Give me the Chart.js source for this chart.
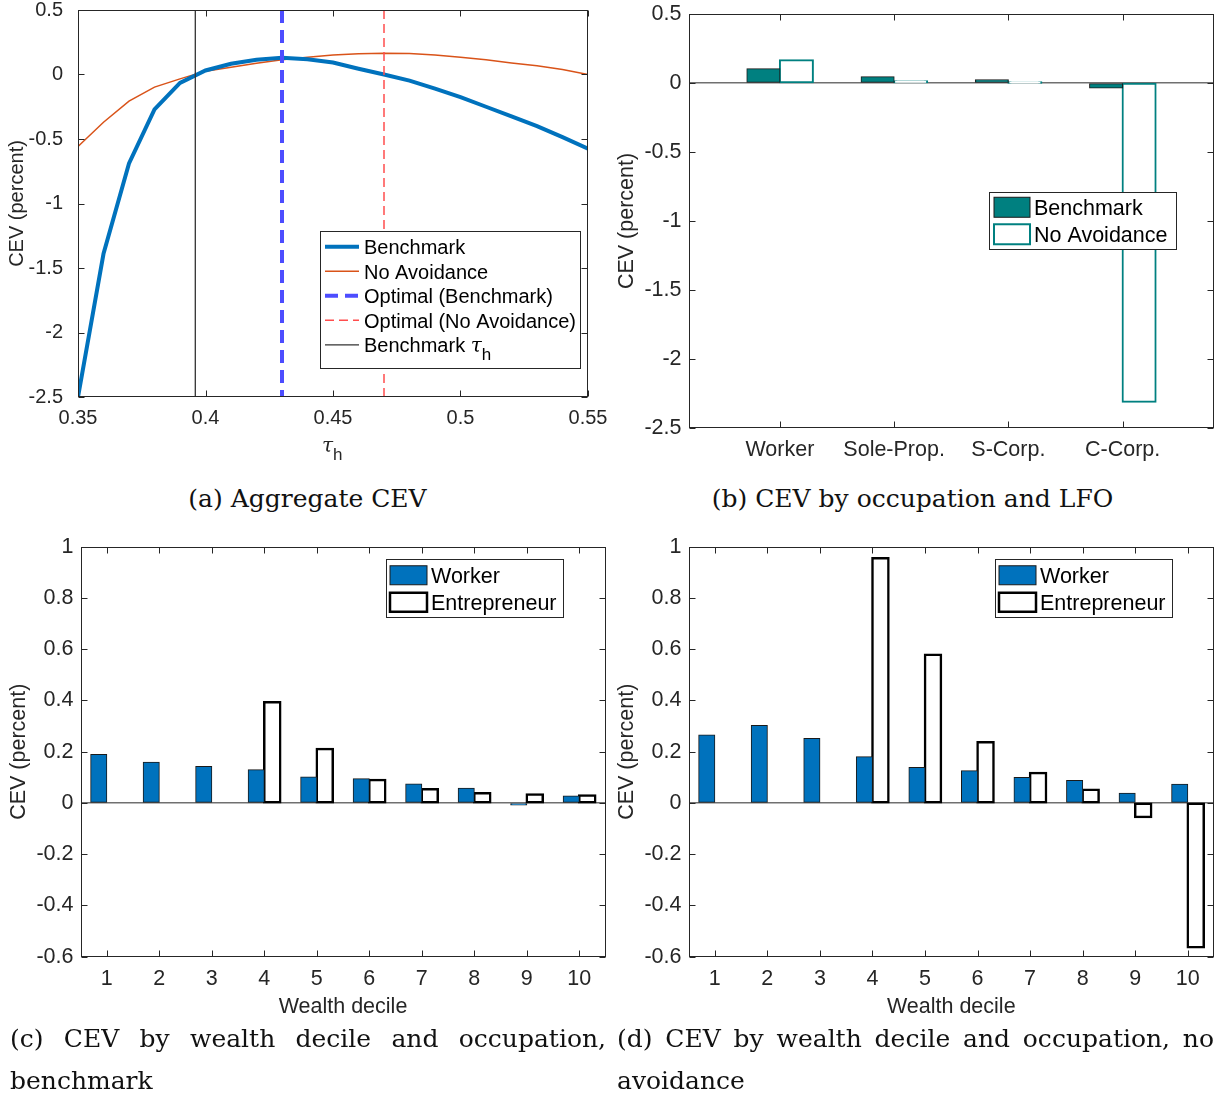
<!DOCTYPE html>
<html>
<head>
<meta charset="utf-8">
<script src="https://cdn.jsdelivr.net/npm/chart.js@4.4.1/dist/chart.umd.min.js"></script>
<style>
  body { margin: 0; background: #fff; width: 1215px; height: 1097px; position: relative; overflow: hidden; }
  canvas { position: absolute; }
  .cap { position: absolute; font-family: 'DejaVu Serif', serif; font-size: 25px; line-height: 42px; color: #111; }
  .just { text-align: justify; }
</style>
</head>
<body>
<canvas id="aggChart" width="610" height="470" style="left:0;top:0"></canvas>
<canvas id="occChart" width="605" height="470" style="left:610px;top:0"></canvas>
<canvas id="decBenchChart" width="610" height="500" style="left:0;top:530px"></canvas>
<canvas id="decNoAvoidChart" width="605" height="500" style="left:610px;top:530px"></canvas>

<div class="cap" style="left:0;top:478px;width:615px;text-align:center">(a) Aggregate CEV</div>
<div class="cap" style="left:610px;top:478px;width:605px;text-align:center">(b) CEV by occupation and LFO</div>
<div class="cap just" style="left:10px;top:1018px;width:596px">(c) CEV by wealth decile and occupation, benchmark</div>
<div class="cap just" style="left:617px;top:1018px;width:597px">(d) CEV by wealth decile and occupation, no avoidance</div>

<script>
// (a) aggregate CEV against the top rate tau_h
const tauGrid = [0.35, 0.36, 0.37, 0.38, 0.39, 0.40, 0.41, 0.42, 0.43, 0.44, 0.45,
                 0.46, 0.47, 0.48, 0.49, 0.50, 0.51, 0.52, 0.53, 0.54, 0.55];
const cevBenchmark = [-2.5, -1.39, -0.69, -0.27, -0.065, 0.031, 0.083, 0.114, 0.129, 0.119, 0.093,
                      0.045, 0.0, -0.047, -0.11, -0.176, -0.25, -0.325, -0.40, -0.486, -0.576];
const cevNoAvoidance = [-0.558, -0.37, -0.207, -0.098, -0.034, 0.026, 0.057, 0.088, 0.114, 0.134, 0.152,
                        0.16, 0.165, 0.163, 0.152, 0.134, 0.114, 0.09, 0.067, 0.039, 0.0];
const tauOptimalBenchmark = 0.43;
const tauOptimalNoAvoidance = 0.47;
const tauBenchmark = 0.396;
const aggXTicks = [0.35, 0.4, 0.45, 0.5, 0.55];
const aggYTicks = [0.5, 0, -0.5, -1, -1.5, -2, -2.5];

// (b) CEV by occupation and legal form
const occupations = ['Worker', 'Sole-Prop.', 'S-Corp.', 'C-Corp.'];
const occBenchmark = [0.104, 0.046, 0.024, -0.036];
const occNoAvoidance = [0.164, 0.012, 0.002, -2.31];
const occYTicks = [0.5, 0, -0.5, -1, -1.5, -2, -2.5];

// (c), (d) CEV by wealth decile
const deciles = ['1', '2', '3', '4', '5', '6', '7', '8', '9', '10'];
const workerBench = [0.189, 0.159, 0.142, 0.130, 0.101, 0.094, 0.074, 0.057, -0.008, 0.027];
const entreBench = [null, null, null, 0.393, 0.211, 0.090, 0.053, 0.038, 0.033, 0.029];
const workerNoAvoid = [0.265, 0.302, 0.252, 0.180, 0.138, 0.126, 0.099, 0.088, 0.038, 0.073];
const entreNoAvoid = [null, null, null, 0.955, 0.578, 0.237, 0.117, 0.052, -0.055, -0.563];
const decYTicks = [1, 0.8, 0.6, 0.4, 0.2, 0, -0.2, -0.4, -0.6];

Chart.defaults.font.family = "'Liberation Sans', Arial, Helvetica, sans-serif";
Chart.defaults.color = '#262626';
Chart.defaults.animation = false;

const AXIS = '#262626';
const fmt = v => String(Math.round(v * 100) / 100);

function drawTauH(ctx, x, base, size) {
  ctx.font = "italic " + size + "px 'DejaVu Serif', serif";
  ctx.textAlign = 'left';
  ctx.textBaseline = 'alphabetic';
  ctx.fillText('τ', x, base);
  const w = ctx.measureText('τ').width;
  ctx.font = Math.round(size * 0.85) + "px 'Liberation Sans', Arial, sans-serif";
  ctx.fillText('h', x + w, base + size * 0.42);
}

// box round the axes with inward tick marks on all four sides
const matlabBox = {
  id: 'matlabBox',
  afterDraw(chart) {
    const {ctx, chartArea: a, scales} = chart;
    const L = Math.round(a.left) + 0.5, R = Math.round(a.right) - 0.5;
    const T = Math.round(a.top) + 0.5, B = Math.round(a.bottom) - 0.5;
    const len = 6;
    ctx.save();
    ctx.strokeStyle = AXIS;
    ctx.lineWidth = 1;
    ctx.strokeRect(L, T, R - L, B - T);
    ctx.beginPath();
    scales.x.ticks.forEach(t => {
      const px = Math.round(scales.x.getPixelForValue(t.value)) + 0.5;
      ctx.moveTo(px, B); ctx.lineTo(px, B - len);
      ctx.moveTo(px, T); ctx.lineTo(px, T + len);
    });
    scales.y.ticks.forEach(t => {
      const py = Math.round(scales.y.getPixelForValue(t.value)) + 0.5;
      ctx.moveTo(L, py); ctx.lineTo(L + len, py);
      ctx.moveTo(R, py); ctx.lineTo(R - len, py);
    });
    ctx.stroke();
    const xt = chart.options.plugins.matlabBox && chart.options.plugins.matlabBox.tauTitle;
    if (xt) {
      ctx.fillStyle = AXIS;
      drawTauH(ctx, (a.left + a.right) / 2 - 11, xt, 20);
    }
    ctx.restore();
  }
};

// legend box drawn inside the axes, MATLAB style
const boxLegend = {
  id: 'boxLegend',
  afterDraw(chart, args, o) {
    if (!o || !o.w) return;
    const ctx = chart.ctx;
    ctx.save();
    ctx.fillStyle = '#fff';
    ctx.fillRect(o.x, o.y, o.w, o.h);
    ctx.strokeStyle = AXIS;
    ctx.lineWidth = 1;
    ctx.strokeRect(o.x + 0.5, o.y + 0.5, o.w, o.h);
    const isBar = chart.config.type === 'bar';
    chart.data.datasets.forEach((ds, i) => {
      const base = o.base + i * o.step;
      const cy = base - o.size * 0.36;
      if (isBar) {
        const h = o.swH;
        ctx.fillStyle = ds.backgroundColor;
        ctx.fillRect(o.sx0, cy - h / 2, o.sx1 - o.sx0, h);
        ctx.strokeStyle = ds.borderColor;
        ctx.lineWidth = ds.borderWidth;
        ctx.setLineDash([]);
        ctx.strokeRect(o.sx0, cy - h / 2, o.sx1 - o.sx0, h);
      } else {
        ctx.strokeStyle = ds.borderColor;
        ctx.lineWidth = ds.borderWidth;
        ctx.setLineDash(ds.borderDash || []);
        ctx.beginPath();
        ctx.moveTo(o.sx0, cy);
        ctx.lineTo(o.sx1, cy);
        ctx.stroke();
        ctx.setLineDash([]);
      }
      ctx.fillStyle = '#000';
      ctx.font = o.size + "px 'Liberation Sans', Arial, sans-serif";
      ctx.textAlign = 'left';
      ctx.textBaseline = 'alphabetic';
      let label = ds.label;
      const sub = label.endsWith('τ_h');
      if (sub) label = label.slice(0, -3);
      ctx.fillText(label, o.tx, base);
      if (sub) {
        const w = ctx.measureText(label).width;
        drawTauH(ctx, o.tx + w, base, o.size);
      }
    });
    ctx.restore();
  }
};

function fixedTicks(list) {
  return scale => { scale.ticks = list.map(v => ({value: v})); };
}

function yAxis(min, max, ticks, size, titlePad, width) {
  return {
    type: 'linear', min: min, max: max,
    afterBuildTicks: fixedTicks(ticks),
    afterFit: s => { s.width = width; s.paddingTop = 0; s.paddingBottom = 0; },
    border: {display: false},
    grid: {drawTicks: false, lineWidth: 1.5, color: c => c.tick && c.tick.value === 0 ? '#707070' : 'rgba(0,0,0,0)'},
    ticks: {font: {size: size}, padding: 7, callback: v => fmt(v)},
    title: {display: true, text: 'CEV (percent)', font: {size: size}, padding: {top: titlePad, bottom: 0}}
  };
}

function xAxis(min, max, ticks, labels, size, height, title) {
  return {
    type: 'linear', min: min, max: max, offset: false,
    afterBuildTicks: fixedTicks(ticks),
    afterFit: s => { s.height = height; s.paddingLeft = 0; s.paddingRight = 0; },
    border: {display: false},
    grid: {display: false},
    ticks: {font: {size: size}, padding: 1, autoSkip: false, maxRotation: 0,
            callback: v => labels ? labels[Math.round(v) - 1] : fmt(v)},
    title: {display: !!title, text: title || '', font: {size: size}, padding: {top: 0, bottom: 10}}
  };
}

const pts = (xs, ys) => xs.map((x, i) => ({x: x, y: ys[i]}));
const vline = x => [{x: x, y: aggYTicks[0]}, {x: x, y: aggYTicks[aggYTicks.length - 1]}];

// (a)
const aggY = yAxis(-2.5, 0.5, aggYTicks, 20, 5, 78);
aggY.grid = {display: false};
new Chart(document.getElementById('aggChart'), {
  type: 'line',
  data: {
    datasets: [
      {label: 'Benchmark', data: pts(tauGrid, cevBenchmark), borderColor: '#0072BD', borderWidth: 4, order: 2},
      {label: 'No Avoidance', data: pts(tauGrid, cevNoAvoidance), borderColor: '#D95319', borderWidth: 1.5, order: 3},
      {label: 'Optimal (Benchmark)', data: vline(tauOptimalBenchmark), borderColor: 'rgb(77,77,255)', borderWidth: 4, borderDash: [13, 7], order: 1},
      {label: 'Optimal (No Avoidance)', data: vline(tauOptimalNoAvoidance), borderColor: 'rgb(255,77,77)', borderWidth: 1.5, borderDash: [9, 5], order: 1},
      {label: 'Benchmark τ_h', data: vline(tauBenchmark), borderColor: '#333333', borderWidth: 1.3, order: 1}
    ]
  },
  options: {
    responsive: false,
    layout: {padding: {left: 0, right: 22, top: 10, bottom: 0}},
    elements: {point: {radius: 0}, line: {tension: 0}},
    scales: {x: xAxis(0.35, 0.55, aggXTicks, null, 20, 73, null), y: aggY},
    plugins: {
      legend: {display: false}, tooltip: {enabled: false},
      matlabBox: {tauTitle: 452},
      boxLegend: {x: 320, y: 231, w: 260, h: 137, base: 254, step: 24.5, sx0: 325, sx1: 359, tx: 364, size: 20}
    }
  },
  plugins: [matlabBox, boxLegend]
});

// (b)
new Chart(document.getElementById('occChart'), {
  type: 'bar',
  data: {
    datasets: [
      {label: 'Benchmark', data: pts([1, 2, 3, 4], occBenchmark), backgroundColor: '#008080', borderColor: '#1a1a1a', borderWidth: 1, inflateAmount: 0.5},
      {label: 'No Avoidance', data: pts([1, 2, 3, 4], occNoAvoidance), backgroundColor: '#ffffff', borderColor: '#008080', borderWidth: 2, inflateAmount: 1}
    ]
  },
  options: {
    responsive: false,
    layout: {padding: {left: 0, right: 1, top: 14, bottom: 0}},
    datasets: {bar: {categoryPercentage: 0.578, barPercentage: 1, borderSkipped: false}},
    scales: {x: xAxis(0.2, 4.8, [1, 2, 3, 4], occupations, 21.5, 42, null), y: yAxis(-2.5, 0.5, occYTicks, 21.5, 4, 78.5)},
    plugins: {
      legend: {display: false}, tooltip: {enabled: false},
      boxLegend: {x: 379, y: 192, w: 187, h: 57, base: 215, step: 27, sx0: 384, sx1: 420, tx: 424, size: 21.5, swH: 20}
    }
  },
  plugins: [matlabBox, boxLegend]
});

// (c) and (d)
function decileChart(id, worker, entre, padLeft, padRight, yWidth, titlePad, legendX) {
  const xs = deciles.map((d, i) => i + 1);
  new Chart(document.getElementById(id), {
    type: 'bar',
    data: {
      datasets: [
        {label: 'Worker', data: pts(xs, worker), backgroundColor: '#0072BD', borderColor: '#1a1a1a', borderWidth: 1, inflateAmount: 0.5},
        {label: 'Entrepreneur', data: pts(xs, entre), backgroundColor: '#ffffff', borderColor: '#000000', borderWidth: 2.5, inflateAmount: 1.25}
      ]
    },
    options: {
      responsive: false,
      layout: {padding: {left: padLeft, right: padRight, top: 16.7, bottom: 0}},
      datasets: {bar: {categoryPercentage: 0.61, barPercentage: 1, borderSkipped: false}},
      scales: {x: xAxis(0.5, 10.5, xs, deciles, 21.5, 73.3, 'Wealth decile'), y: yAxis(-0.6, 1, decYTicks, 21.5, titlePad, yWidth)},
      plugins: {
        legend: {display: false}, tooltip: {enabled: false},
        boxLegend: {x: legendX, y: 29, w: 177, h: 58, base: 53, step: 27, sx0: legendX + 4, sx1: legendX + 41, tx: legendX + 45, size: 21.5, swH: 19}
      }
    },
    plugins: [matlabBox, boxLegend]
  });
}
decileChart('decBenchChart', workerBench, entreBench, 0, 4.5, 80.5, 6, 386);
decileChart('decNoAvoidChart', workerNoAvoid, entreNoAvoid, 0, 1, 78.5, 4, 385);
</script>
</body>
</html>
